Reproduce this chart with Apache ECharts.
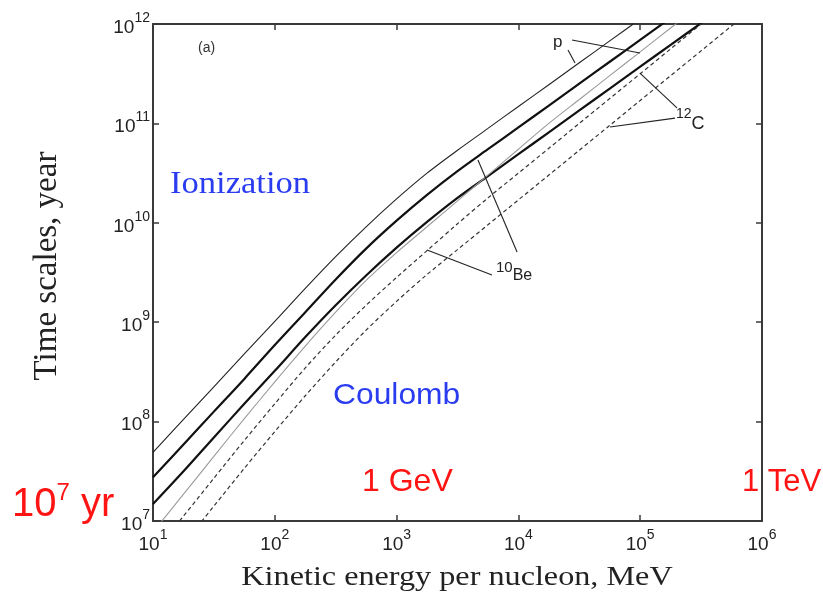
<!DOCTYPE html>
<html><head><meta charset="utf-8">
<script src="https://cdn.jsdelivr.net/npm/echarts/dist/echarts.min.js"></script>
<style>html,body{margin:0;padding:0;background:#fff}#c{width:823px;height:601px}</style>
</head><body><div id="c"></div>
<script>
// Kinetic energy per nucleon, MeV (quarter-decade samples)
const energy = [10, 17.8, 31.6, 56.2, 100, 178, 316, 562, 1000, 1778, 3162, 5623,
                10000, 17783, 31623, 56234, 100000, 177828, 316228, 562341, 1000000];
// Time scales, year
const pIonization  = [4.9e7, 1.05e8, 2.24e8, 4.79e8, 1.02e9, 2.19e9, 4.57e9, 9.12e9, 1.74e10, 3.16e10, 5.37e10,
                      8.91e10, 1.48e11, 2.45e11, 4.07e11, 6.76e11, 1.12e12, 1.86e12, 3.09e12, 5.13e12, 8.51e12];
const beIonization = [2.75e7, 5.89e7, 1.26e8, 2.69e8, 5.89e8, 1.26e9, 2.69e9, 5.5e9, 1.05e10, 1.91e10, 3.31e10,
                      5.5e10, 9.12e10, 1.51e11, 2.51e11, 4.17e11, 6.92e11, 1.15e12, 1.91e12, 3.16e12, 5.25e12];
const cIonization  = [1.48e7, 3.16e7, 6.92e7, 1.51e8, 3.24e8, 7.08e8, 1.48e9, 2.95e9, 5.62e9, 1.02e10, 1.78e10,
                      2.95e10, 4.9e10, 8.13e10, 1.35e11, 2.24e11, 3.72e11, 6.17e11, 1.02e12, 1.7e12, 2.82e12];
const pCoulomb     = [7.76e6, 1.86e7, 4.47e7, 1.07e8, 2.51e8, 5.75e8, 1.26e9, 2.63e9, 5.01e9, 9.12e9, 1.66e10,
                      3.02e10, 5.5e10, 1.0e11, 1.74e11, 3.02e11, 5.25e11, 9.12e11, 1.58e12, 2.75e12, 4.79e12];
const beCoulomb    = [4.68e6, 1.12e7, 2.69e7, 6.46e7, 1.51e8, 3.47e8, 7.41e8, 1.48e9, 2.82e9, 5.25e9, 9.77e9,
                      1.78e10, 3.16e10, 5.62e10, 1.0e11, 1.78e11, 3.16e11, 5.62e11, 1.0e12, 1.78e12, 3.16e12];
const cCoulomb     = [2.45e6, 5.89e6, 1.41e7, 3.39e7, 7.94e7, 1.82e8, 3.98e8, 8.32e8, 1.62e9, 3.02e9, 5.37e9,
                      9.55e9, 1.7e10, 3.02e10, 5.37e10, 9.55e10, 1.7e11, 3.02e11, 5.37e11, 9.55e11, 1.7e12];

// axis ranges (ticks at every decade)
const xRange = [10, 1e6];
const yRange = [1e7, 1e12];

// leader lines of the annotations, in data coordinates [energy, time]
const leaderP  = [[[25530, 5.47e11], [29170, 4.06e11]], [[27540, 6.9e11], [99540, 5.11e11]]];
const leaderC  = [[[200400, 1.43e11], [99540, 3.21e11]], [[193200, 1.13e11], [56490, 9.2e10]]];
const leaderBe = [[[9750, 5.08e9], [4656, 4.29e10]], [[6067, 2.99e9], [1778, 5.32e9]]];

const pairs = (arr) => energy.map((e, i) => [e, arr[i]]);
const SANS = '"Liberation Sans", Arial, sans-serif';
const SERIF = '"Liberation Serif", "Times New Roman", serif';

function powLabel(v) {
  const e = Math.round(Math.log10(v));
  return '{b|10}{s|' + e + '}';
}
const richTick = {
  b: {fontSize: 19, fontFamily: SANS, color: '#222', lineHeight: 26, verticalAlign: 'bottom'},
  s: {fontSize: 14, fontFamily: SANS, color: '#222', lineHeight: 14, verticalAlign: 'top'}
};

const axisLine = {show: true, lineStyle: {color: '#3a3a3a', width: 2}};
const tick = {show: true, inside: true, length: 6, lineStyle: {color: '#3a3a3a', width: 1.5}};

function curve(name, arr, style) {
  return {
    name, type: 'line', data: pairs(arr), smooth: 0.3, symbol: 'none',
    lineStyle: style, clip: true, silent: true, z: 3
  };
}
const leaderData = leaderP.concat(leaderC, leaderBe).map(l => [{coord: l[0]}, {coord: l[1]}]);

const chart = echarts.init(document.getElementById('c'), null, {renderer: 'canvas'});
chart.setOption({
  animation: false,
  backgroundColor: '#fff',
  grid: {left: 153, right: 61, top: 24, bottom: 80, containLabel: false},
  xAxis: [
    {type: 'log', logBase: 10, min: xRange[0], max: xRange[1], interval: 1,
     axisLine, axisTick: tick, splitLine: {show: false}, minorTick: {show: false},
     axisLabel: {formatter: powLabel, rich: richTick, margin: 7}},
    {type: 'log', logBase: 10, min: xRange[0], max: xRange[1], interval: 1, position: 'top',
     axisLine, axisTick: tick, splitLine: {show: false}, axisLabel: {show: false}}
  ],
  yAxis: [
    {type: 'log', logBase: 10, min: yRange[0], max: yRange[1], interval: 1,
     axisLine, axisTick: tick, splitLine: {show: false}, minorTick: {show: false},
     axisLabel: {formatter: powLabel, rich: richTick, margin: 3}},
    {type: 'log', logBase: 10, min: yRange[0], max: yRange[1], interval: 1, position: 'right',
     axisLine, axisTick: tick, splitLine: {show: false}, axisLabel: {show: false}}
  ],
  series: [
    curve('p ionization', pIonization, {color: '#222', width: 1.1}),
    curve('10Be ionization', beIonization, {color: '#111', width: 2.2}),
    curve('12C ionization', cIonization, {color: '#111', width: 2.2}),
    curve('p Coulomb', pCoulomb, {color: '#9a9a9a', width: 1.1}),
    curve('10Be Coulomb', beCoulomb, {color: '#333', width: 1.2, type: [4, 3]}),
    curve('12C Coulomb', cCoulomb, {color: '#333', width: 1.2, type: [4, 3]}),
    {
      name: 'leaders', type: 'line', data: [], silent: true,
      markLine: {symbol: 'none', silent: true, animation: false, label: {show: false},
        lineStyle: {color: '#222', width: 1.1, type: 'solid'}, data: leaderData}
    }
  ],
  graphic: [
    {type: 'text', x: 198, y: 48, style: {text: '(a)', font: '14px ' + SANS, fill: '#333', verticalAlign: 'middle'}},
    {type: 'text', x: 170, y: 185, scaleX: 1.08, style: {text: 'Ionization', font: '32px ' + SERIF, fill: '#2a3cf0', verticalAlign: 'middle'}},
    {type: 'text', x: 333, y: 396, scaleX: 1.06, style: {text: 'Coulomb', font: '30px ' + SANS, fill: '#2a3cf0', verticalAlign: 'middle'}},
    {type: 'text', x: 362, y: 482, style: {text: '1 GeV', font: '32px ' + SANS, fill: '#ff1414', verticalAlign: 'middle'}},
    {type: 'text', x: 742, y: 482, style: {text: '1 TeV', font: '31px ' + SANS, fill: '#ff1414', verticalAlign: 'middle'}},
    {type: 'text', x: 12, y: 503, style: {
      text: '{b|10}{s|7}{b| yr}', verticalAlign: 'middle',
      rich: {b: {fontSize: 40, fontFamily: SANS, fill: '#ff1414', lineHeight: 44, verticalAlign: 'bottom'},
             s: {fontSize: 24, fontFamily: SANS, fill: '#ff1414', lineHeight: 24, verticalAlign: 'top'}}}},
    {type: 'text', x: 553, y: 42, style: {text: 'p', font: '17px ' + SANS, fill: '#222', verticalAlign: 'middle'}},
    {type: 'text', x: 676, y: 120, style: {
      text: '{s|12}{b|C}', verticalAlign: 'middle',
      rich: {b: {fontSize: 18, fontFamily: SANS, fill: '#222', lineHeight: 26, verticalAlign: 'bottom'},
             s: {fontSize: 14, fontFamily: SANS, fill: '#222', lineHeight: 14, verticalAlign: 'top'}}}},
    {type: 'text', x: 496, y: 272, style: {
      text: '{s|10}{b|Be}', verticalAlign: 'middle',
      rich: {b: {fontSize: 16, fontFamily: SANS, fill: '#222', lineHeight: 24, verticalAlign: 'bottom'},
             s: {fontSize: 15, fontFamily: SANS, fill: '#222', lineHeight: 14, verticalAlign: 'top'}}}},
    {type: 'text', x: 457, y: 578, scaleX: 1.15, style: {text: 'Kinetic energy per nucleon, MeV', font: '28px ' + SERIF, fill: '#222', align: 'center', verticalAlign: 'middle'}},
    {type: 'text', x: 47, y: 266, rotation: Math.PI / 2, style: {text: 'Time scales, year', font: '33px ' + SERIF, fill: '#222', align: 'center', verticalAlign: 'middle'}}
  ]
});
</script></body></html>
